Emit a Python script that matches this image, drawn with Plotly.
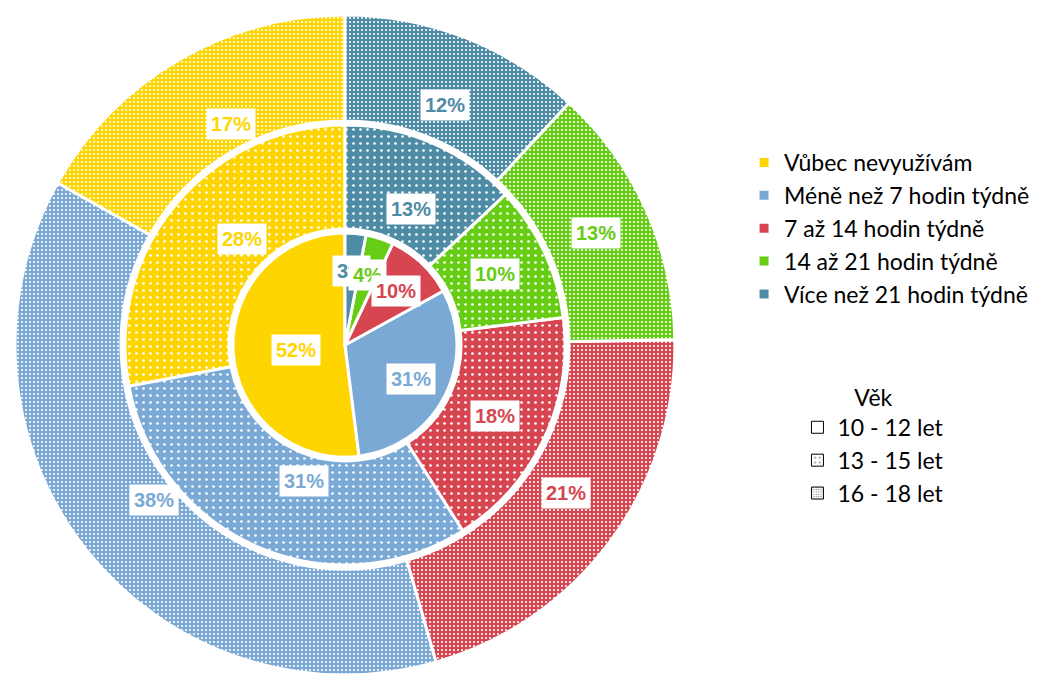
import math
import plotly.graph_objects as go

categories = ["Vůbec nevyužívám", "Méně než 7 hodin týdně", "7 až 14 hodin týdně",
              "14 až 21 hodin týdně", "Více než 21 hodin týdně"]
colors = ["#FFD500", "#7BA9D6", "#D64550", "#66CC14", "#4E8BA5"]
age_groups = ["10 - 12 let", "13 - 15 let", "16 - 18 let"]
vals_10_12 = [52, 31, 10, 4, 3]
vals_13_15 = [28, 31, 18, 10, 13]
vals_16_18 = [17, 38, 21, 13, 12]

W, H = 1037, 681
CX, CY = 345, 345
R_in, R_mid, R_out = 112, 220, 330
GAP = 4

def dom(r):
    return dict(x=[(CX - r) / W, (CX + r) / W],
                y=[(H - CY - r) / H, (H - CY + r) / H])

fig = go.Figure()
rings = [
    (vals_10_12, R_in, 0, None),
    (vals_13_15, R_mid, (R_in + GAP) / R_mid, dict(shape=".", size=7, solidity=0.12)),
    (vals_16_18, R_out, (R_mid + GAP) / R_out, dict(shape=".", size=4, solidity=0.22)),
]
for vals, r, hole, pat in rings:
    marker = dict(colors=colors, line=dict(color="white", width=3))
    if pat:
        marker["pattern"] = dict(shape=[pat["shape"]] * len(vals), fgcolor=["white"] * len(vals),
                                 bgcolor=colors, size=pat["size"], solidity=pat["solidity"])
    fig.add_trace(go.Pie(
        labels=categories, values=vals, hole=hole, domain=dom(r),
        sort=False, direction="counterclockwise", rotation=-360 * vals[0] / sum(vals),
        textinfo="none", hoverinfo="label+percent", marker=marker, legend="legend",
    ))

# percentage labels, placed from the data (mid-angle of each slice)
label_r = [0.66 * R_in, (R_in + R_mid) / 2, (R_mid + R_out) / 2]
for ring_idx, ((vals, r, hole, pat), lr) in enumerate(zip(rings, label_r)):
    tot = sum(vals)
    cum = 0
    items = []
    for v, c in zip(vals, colors):
        mid = (cum + v / 2) / tot * 2 * math.pi
        cum += v
        items.append((v, c, mid))
    if ring_idx == 0:
        items = items[::-1]  # earlier slices' labels drawn on top
    for v, c, mid in items:
        px = CX - lr * math.sin(mid)
        py = CY - lr * math.cos(mid)
        fig.add_annotation(x=px / W, y=1 - py / H, xref="paper", yref="paper",
                           text=f"{round(v / tot * 100)}%", showarrow=False,
                           font=dict(family="Liberation Sans", size=20, color=c, weight="bold"),
                           bgcolor="white", borderpad=4)

# age legend (pattern swatches)
age_patterns = [dict(shape=""),
                dict(shape=".", fgcolor="black", bgcolor="white", size=6, solidity=0.12),
                dict(shape=".", fgcolor="black", bgcolor="white", size=3, solidity=0.25)]
for name, p in zip(age_groups, age_patterns):
    fig.add_trace(go.Bar(x=[None], y=[None], name=name,
                         marker=dict(color="white", line=dict(color="black", width=1), pattern=p),
                         legend="legend2", showlegend=True, hoverinfo="skip"))

fig.update_layout(
    width=W, height=H, margin=dict(l=0, r=0, t=0, b=0),
    paper_bgcolor="white", plot_bgcolor="white",
    xaxis=dict(visible=False), yaxis=dict(visible=False),
    legend=dict(x=0.7175, y=0.793, xanchor="left", yanchor="top",
                font=dict(family="Lato", size=23, color="black")),
    legend2=dict(x=0.769, y=0.448, xanchor="left", yanchor="top",
                 title=dict(text="Věk", side="top center", font=dict(family="Lato", size=23)),
                 font=dict(family="Lato", size=23, color="black")),
)
fig.write_html("out.html", config={"displayModeBar": False},
               post_script="document.body.style.margin='0px';")
